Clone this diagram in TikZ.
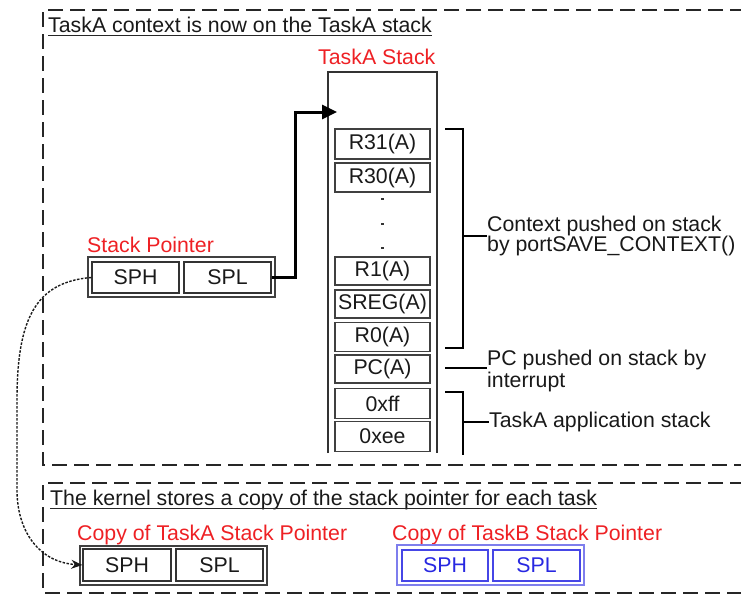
\documentclass[tikz,border=0pt]{standalone}
\usepackage{fontspec}
\setmainfont{Liberation Sans}
\usetikzlibrary{arrows.meta}
\definecolor{lblred}{RGB}{238,32,36}
\definecolor{boxblue}{RGB}{40,40,225}
\definecolor{lineblue}{RGB}{70,70,230}
\begin{document}
\begin{tikzpicture}[x=1pt,y=-1pt,
  font=\fontsize{21.3}{22}\selectfont,
  dashbox/.style={draw=black!85, line width=2.2pt, dash pattern=on 15pt off 7pt},
  reg/.style={draw=black!75, line width=1.4pt, minimum width=95pt, minimum height=29pt, inner sep=0pt, text=black!90},
  cell/.style={draw=black!80, line width=1.4pt, minimum width=87pt, minimum height=31pt, inner sep=0pt, text=black!90},
  outerbox/.style={draw=black!75, line width=1.4pt, minimum width=187pt, minimum height=40pt, inner sep=0pt},
  bluecell/.style={cell, draw=lineblue, text=boxblue},
  blueouter/.style={outerbox, draw=lineblue!70},
  brk/.style={draw=black, line width=2pt},
  redlbl/.style={text=lblred, inner sep=0pt, anchor=base west},
  title/.style={text=black!90, inner sep=0pt, anchor=base west},
  note/.style={text=black!90, inner sep=0pt, anchor=west, align=left},
  dotmark/.style={fill=black!80, inner sep=0pt, minimum size=2.5pt}
]
\useasboundingbox (0,0) rectangle (741,595);

% outer dashed regions
\draw[dashbox] (745,10) -- (43,10) -- (43,465) -- (745,465);
\draw[dashbox] (745,483) -- (43,483) -- (43,593) -- (745,593);

% titles
\node[title] (t1) at (48,32) {TaskA context is now on the TaskA stack};
\draw[black!85, line width=1.3pt] ([yshift=-3.5pt]t1.base west) -- ([yshift=-3.5pt]t1.base east);
\node[title] (t2) at (50,505) {The kernel stores a copy of the stack pointer for each task};
\draw[black!85, line width=1.3pt] ([yshift=-3.5pt]t2.base west) -- ([yshift=-3.5pt]t2.base east);

% stack
\node[redlbl] (stacklbl) at (318,64) {TaskA Stack};
\draw[black!80, line width=1.6pt] (328,453) -- (328,72) -- (437,72) -- (437,453);
\coordinate (stackin) at (337,112);

\node[reg, minimum height=30pt] (r31) at (382.5,144) {R31(A)};
\node[reg] (r30) at (382.5,177.5) {R30(A)};
\node[dotmark] (d1) at (382.5,199) {};
\node[dotmark] (d2) at (382.5,224) {};
\node[dotmark] (d3) at (382.5,248) {};
\node[reg, minimum height=28pt] (r1) at (382.5,271) {R1(A)};
\node[reg, minimum height=28pt] (sreg) at (382.5,304) {SREG(A)};
\node[reg] (r0) at (382.5,337) {R0(A)};
\node[reg, minimum height=28pt] (pc) at (382.5,369) {PC(A)};
\node[reg, minimum height=30pt] (xff) at (382.5,403.5) {0xff};
\node[reg, minimum height=30pt] (xee) at (382.5,436.5) {0xee};

% brackets and notes
\draw[brk] (445,129) -- (463,129) -- (463,348) -- (445,348);
\node[note] (ctx) at (487,236) {Context pushed on stack\\[-2.5pt]by portSAVE\_CONTEXT()};
\draw[brk] (463,236) -- (ctx.west);
\node[note] (pcn) at (487,371) {PC pushed on stack by\\interrupt};
\coordinate (pcl) at (445,368);
\draw[brk] (pcl) -- (pcl -| pcn.west);
\draw[brk] (445,392) -- (463,392) -- (463,455);
\node[note] (app) at (489,422) {TaskA application stack};
\draw[brk] (463,422) -- (app.west);

% stack pointer
\node[redlbl] (splbl) at (87,252) {Stack Pointer};
\node[outerbox] (spbox) at (181.5,277) {};
\node[cell] (sph) at (135.5,277.5) {SPH};
\node[cell] (spl) at (227.5,277.5) {SPL};
\draw[line width=3pt, -{Triangle[length=15pt,width=14pt]}] (spl.east) -- ++(24,0) |- (stackin);

% copies
\node[redlbl] (calbl) at (77,540) {Copy of TaskA Stack Pointer};
\node[outerbox, minimum height=39pt] (cabox) at (173.5,565.5) {};
\node[cell, minimum width=88pt, minimum height=32pt] (caph) at (127,565) {SPH};
\node[cell, minimum height=32pt] (capl) at (219.5,565) {SPL};

\node[redlbl] (cblbl) at (392,540) {Copy of TaskB Stack Pointer};
\node[blueouter] (cbbox) at (490.5,565) {};
\node[bluecell, minimum width=86pt] (cbph) at (445,565.5) {SPH};
\node[bluecell] (cbpl) at (536.5,565.5) {SPL};

% dashed copy arrow
\draw[black!90, line width=1.4pt, dash pattern=on 2.5pt off 1.5pt, -{Stealth[length=11pt,width=9pt]}]
  (sph.west) .. controls (35,282) and (17,320) .. (17,400)
  -- (17,490) .. controls (17,530) and (38,562) .. (caph.west);
\end{tikzpicture}
\end{document}
